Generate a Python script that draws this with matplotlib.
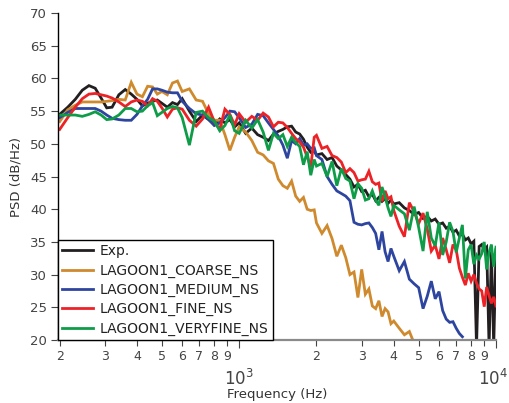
import numpy as np
import matplotlib
matplotlib.use('Agg')
import matplotlib.pyplot as plt
from matplotlib.transforms import ScaledTranslation

# Frequency grid (Hz) and PSD values (dB/Hz)
freq = [200, 215, 230, 245, 260, 275, 290, 305, 320, 340, 360, 380, 400, 420, 440, 460, 480, 500,
        525, 550, 575, 600, 640, 680, 720, 760, 800, 840, 880, 920, 960, 1000,
        1060, 1120, 1180, 1240, 1300, 1360, 1420, 1480, 1540, 1600, 1660, 1720, 1780, 1840, 1900, 1960,
        2000, 2100, 2200, 2300, 2400, 2500, 2600, 2700, 2800, 2900, 3000, 3100, 3200, 3300, 3400, 3500,
        3600, 3700, 3800, 3900, 4000, 4200, 4400, 4600, 4800, 5000, 5200, 5400, 5600, 5800, 6000, 6200,
        6400, 6600, 6800, 7000, 7200, 7400, 7600, 7800, 8000, 8200, 8400, 8600, 8800, 9000, 9200, 9400,
        9600, 9800, 10000]

nan = float('nan')

exp = [54.5, 55.6, 56.8, 58.2, 58.9, 58.5, 57.0, 55.5, 55.6, 57.5, 58.3, 57.6, 56.8, 55.8, 56.2, 56.5, 56.7, 56.2,
       55.6, 56.3, 56.0, 56.9, 55.0, 53.4, 54.4, 53.7, 52.9, 53.8, 53.2, 53.7, 52.6, 53.2,
       51.6, 52.4, 51.4, 51.0, 50.5, 51.5, 51.9, 52.2, 52.6, 52.7, 51.8, 51.5, 50.7, 49.5, 48.7, 48.9,
       48.3, 48.5, 47.6, 47.9, 46.6, 46.0, 45.3, 44.6, 43.4, 43.8, 42.7, 42.9, 41.9, 42.3, 41.3, 41.8,
       41.2, 41.6, 40.9, 41.4, 40.8, 41.0, 40.2, 39.8, 39.2, 39.5, 38.6, 38.9, 38.2, 38.5, 37.7, 37.9,
       37.1, 37.4, 36.5, 36.8, 35.9, 36.2, 35.3, 35.6, 34.7, 35.1, 19.0, 34.3, 34.6, 33.8, 34.2, 19.0,
       33.5, 19.0, 33.8]

coarse = [53.4, 55.2, 55.9, 56.4, 56.4, 56.4, 56.4, 56.5, 56.6, 56.8, 56.7, 59.4, 57.6, 57.2, 58.8, 58.7, 57.6, 58.0,
          57.5, 59.3, 59.6, 58.0, 58.4, 56.7, 56.5, 54.6, 53.6, 53.6, 51.4, 49.0, 51.0, 52.6,
          51.8, 50.5, 48.7, 48.3, 47.4, 47.0, 44.6, 43.6, 43.2, 44.3, 42.0, 41.2, 41.8, 40.0, 39.8, 39.9,
          37.9, 36.3, 37.5, 35.5, 32.8, 34.5, 32.6, 30.0, 30.4, 26.5, 30.8, 27.0, 27.8, 25.2, 24.8, 26.0,
          23.6, 24.8, 24.3, 22.5, 22.9, 21.8, 20.8, 21.3, 19.5, nan, nan, nan, nan, nan, nan, nan,
          nan, nan, nan, nan, nan, nan, nan, nan, nan, nan, nan, nan, nan, nan, nan, nan,
          nan, nan, nan]

medium = [54.0, 54.8, 55.4, 55.4, 55.4, 55.4, 55.0, 54.4, 53.9, 53.7, 53.6, 53.6, 54.5, 55.8, 56.8, 58.4, 58.4, 58.2,
          57.9, 57.8, 57.8, 56.5, 55.4, 54.6, 54.4, 53.8, 52.8, 53.2, 54.0, 55.0, 54.9, 54.0,
          52.5, 53.0, 54.5, 54.3, 53.2, 52.2, 51.2, 49.8, 47.8, 50.5, 50.0, 50.8, 49.8, 50.0, 49.3, 49.4,
          48.2, 47.6, 45.0, 43.8, 42.8, 42.4, 42.0, 41.3, 38.0, 37.7, 37.6, 37.8, 37.9, 37.2, 36.3, 33.8,
          36.6, 33.5, 32.0, 34.0, 32.8, 30.6, 32.0, 29.3, 28.6, 28.0, 24.8, 26.7, 29.0, 26.3, 27.4, 24.5,
          23.2, 22.7, 22.8, 21.8, 21.0, 20.5, nan, nan, nan, nan, nan, nan, nan, nan, nan, nan,
          nan, nan, nan]

fine = [52.2, 54.0, 55.6, 56.9, 57.6, 57.7, 57.5, 57.3, 57.0, 56.4, 55.7, 56.4, 56.7, 56.5, 55.8, 56.9, 56.5, 55.5,
        54.1, 55.3, 55.5, 55.3, 53.6, 52.7, 53.8, 55.6, 53.4, 52.2, 55.3, 54.5, 52.9, 54.6,
        53.3, 54.2, 53.6, 54.7, 54.1, 52.6, 53.3, 53.2, 52.5, 51.6, 50.8, 50.3, 49.5, 48.0, 46.5, 51.0,
        51.3, 49.3, 49.6, 48.2, 47.9, 47.2, 45.6, 46.2, 45.6, 44.3, 44.5, 44.6, 45.8, 44.2, 43.8, 44.0,
        41.2, 42.8, 41.6, 41.9, 39.8, 37.4, 35.8, 41.0, 39.6, 37.8, 39.4, 37.0, 33.6, 34.5, 32.4, 35.6,
        33.8, 31.8, 34.6, 33.8, 31.0, 29.6, 28.4, 30.2, 29.0, 30.0, 28.7, 27.8, 27.5, 25.1, 28.1, 26.8,
        25.6, 26.6, 25.2]

veryfine = [54.4, 54.4, 54.4, 54.2, 54.5, 54.9, 54.4, 53.7, 53.8, 54.4, 55.4, 55.4, 54.9, 55.0, 55.8, 56.3, 54.3, 54.8,
            55.4, 55.7, 55.5, 54.0, 49.8, 54.8, 55.0, 54.0, 53.5, 52.0, 52.8, 54.4, 52.0, 51.6,
            53.6, 52.4, 53.7, 51.8, 49.0, 51.6, 50.8, 51.4, 49.6, 51.0, 50.2, 49.6, 46.8, 48.8, 45.2, 47.6,
            46.6, 47.0, 45.0, 47.3, 43.6, 46.2, 44.7, 44.3, 41.6, 43.9, 43.2, 41.4, 41.6, 42.8, 41.4, 40.6,
            43.4, 41.9, 40.2, 38.9, 40.6, 39.9, 39.3, 36.8, 40.4, 37.2, 33.6, 39.6, 35.6, 34.4, 38.0, 33.0,
            35.0, 38.0, 36.6, 33.4, 35.6, 37.6, 29.4, 33.8, 34.6, 31.6, 33.0, 32.4, 33.2, 35.0, 30.8, 33.4,
            34.6, 31.2, 34.2]

labels = ['Exp.', 'LAGOON1_COARSE_NS', 'LAGOON1_MEDIUM_NS', 'LAGOON1_FINE_NS', 'LAGOON1_VERYFINE_NS']
colors = ['#231f20', '#cf8a2e', '#2e45a0', '#ec2227', '#0f9c48']
series = [exp, coarse, medium, fine, veryfine]

fig = plt.figure(figsize=(5.1, 4.03), dpi=100)
ax = fig.add_axes([0.1137, 0.1563, 0.8588, 0.8114])

for s, lab, c in zip(series, labels, colors):
    ax.plot(freq, s, color=c, lw=2.0, label=lab, solid_joinstyle='miter')

ax.set_xscale('log')
ax.set_xlim(197, 10000)
ax.set_ylim(20, 70)
ax.set_yticks(np.arange(20, 71, 5))

ax.spines['top'].set_visible(False)
ax.spines['right'].set_visible(False)
ax.spines['left'].set_linewidth(1.0)
ax.spines['bottom'].set_color('#8a8a8a')
ax.spines['bottom'].set_linewidth(1.6)

minor_pos = [200, 300, 400, 500, 600, 700, 800, 900, 2000, 3000, 4000, 5000, 6000, 7000, 8000, 9000]
minor_lab = ['2', '3', '4', '5', '6', '7', '8', '9'] * 2
ax.xaxis.set_major_locator(matplotlib.ticker.FixedLocator([1000, 10000]))
ax.xaxis.set_major_formatter(matplotlib.ticker.FixedFormatter(['$10^3$', '$10^4$']))
ax.xaxis.set_minor_locator(matplotlib.ticker.FixedLocator(minor_pos))
ax.xaxis.set_minor_formatter(matplotlib.ticker.FixedFormatter(minor_lab))

ax.tick_params(axis='x', which='minor', length=4, width=0.8, labelsize=9, pad=3, colors='#444444')
ax.tick_params(axis='x', which='major', length=6, width=0.8, labelsize=12, pad=15, colors='#444444')
ax.tick_params(axis='y', which='major', length=5, width=0.8, labelsize=9.5, pad=3, colors='#444444')
ax.tick_params(axis='y', which='minor', left=False)

# nudge the 10^4 label left so it stays inside the figure
fig.canvas.draw()
last = ax.xaxis.get_majorticklabels()[-1]
last.set_transform(last.get_transform() + ScaledTranslation(-3 / 100, 0, fig.dpi_scale_trans))

ax.set_xlabel('Frequency (Hz)', fontsize=9.5, color='#333333', labelpad=-1)
ax.set_ylabel('PSD (dB/Hz)', fontsize=9.5, color='#333333', labelpad=5)

leg = ax.legend(loc='lower left', bbox_to_anchor=(0, 0), borderaxespad=0, fontsize=10,
                frameon=True, fancybox=False, edgecolor='black', framealpha=1,
                handlelength=2.2, handletextpad=0.5, labelspacing=0.38, borderpad=0.3)
leg.get_frame().set_linewidth(1.0)
for t in leg.get_texts():
    t.set_color('#222222')

fig.savefig('out.png', dpi=100)
